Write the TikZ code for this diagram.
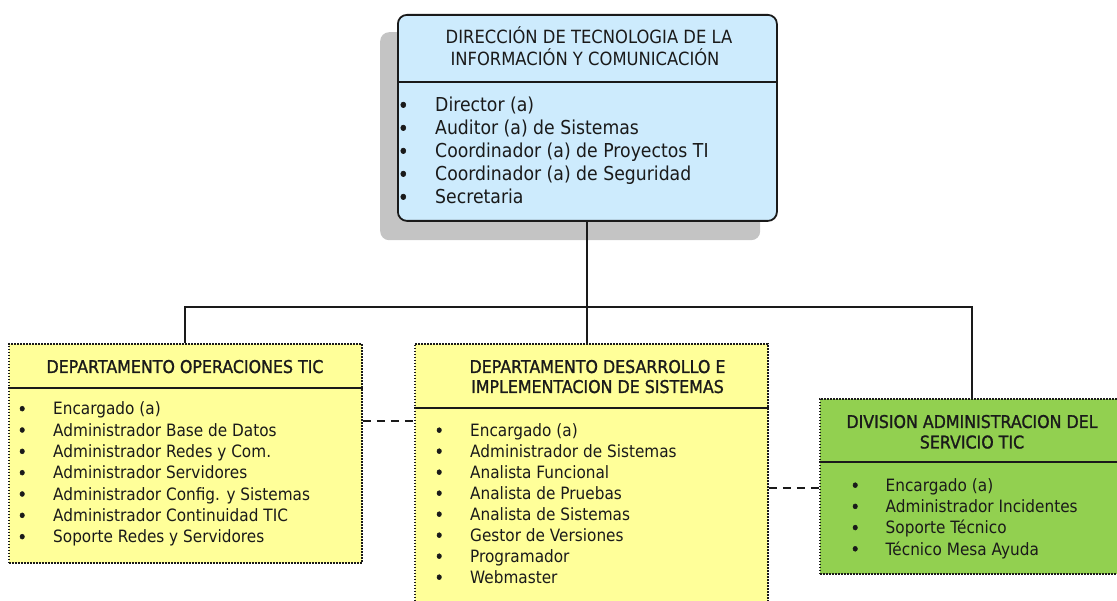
\documentclass[tikz,border=0pt]{standalone}
\usepackage{fontspec}
\setmainfont{DejaVu Sans}[FakeStretch=0.9]
\newfontfamily\titlefont{DejaVu Sans}[FakeStretch=0.9,FakeBold=1.2]
\newfontfamily\bulfont{DejaVu Sans}[FakeStretch=0.9,FakeBold=3]
\newcommand\bigbul{{\bulfont\textbullet}}
\definecolor{topblue}{HTML}{CDEBFD}
\definecolor{paleyel}{HTML}{FFFF99}
\definecolor{leafgrn}{HTML}{92D050}
\definecolor{shadowgray}{HTML}{C4C4C4}
\definecolor{ink}{HTML}{1A1A1A}
\tikzset{
  boxbase/.style={rectangle, inner sep=0pt, anchor=north west, line width=1.8pt, draw=ink},
  dotbox/.style={boxbase, dash pattern=on 1.6pt off 1.4pt},
  conn/.style={draw=ink, line width=2pt},
  dashconn/.style={draw=ink, line width=1.3pt, dash pattern=on 8pt off 6pt},
  divider/.style={draw=ink, line width=1.3pt},
  toptext/.style={anchor=base west, inner sep=0pt, font=\fontsize{19.2}{21}\selectfont, text=ink},
  bodytext/.style={anchor=base west, inner sep=0pt, font=\fontsize{17}{19}\selectfont, text=ink},
  toptitle/.style={anchor=base, inner sep=0pt, font=\fontsize{18.2}{20}\selectfont, text=ink},
  depttitle/.style={anchor=base, inner sep=0pt, font=\fontsize{17.6}{19}\titlefont, text=ink},
}
\begin{document}
\begin{tikzpicture}[x=1pt,y=-1pt]
\useasboundingbox (0,0) rectangle (1117,601);
% top box with shadow
\node[rectangle, inner sep=0pt, anchor=north west, fill=shadowgray, rounded corners=9pt,
      minimum width=380pt, minimum height=208pt] (dirshadow) at (380,32) {};
\node[boxbase, fill=topblue, rounded corners=9pt, line width=1.8pt,
      minimum width=379pt, minimum height=206pt] (dir) at (397,14) {};
\draw[divider] (dir.west |- 0,82) -- (dir.east |- 0,82);
\node[toptitle] (dirt1) at (589,44) {DIRECCIÓN DE TECNOLOGIA DE LA};
\node[toptitle] (dirt2) at (585,65.5) {INFORMACIÓN Y COMUNICACIÓN};
\foreach \t [count=\i from 0] in {Director (a), Auditor (a) de Sistemas, Coordinador (a) de Proyectos TI, Coordinador (a) de Seguridad, Secretaria}
  \node[toptext] (dl\i) at (398, 112+23*\i) {\makebox[37pt][l]{\bigbul}\t};

% departments
\node[dotbox, fill=paleyel, minimum width=353pt, minimum height=219pt] (ops) at (8,343) {};
\node[dotbox, fill=paleyel, minimum width=353pt, minimum height=280pt] (dev) at (414,343) {};
\node[dotbox, fill=leafgrn, minimum width=304pt, minimum height=175pt] (svc) at (819,398) {};

\draw[divider] (ops.west |- 0,388) -- (ops.east |- 0,388);
\draw[divider] (dev.west |- 0,408) -- (dev.east |- 0,408);
\draw[divider] (svc.west |- 0,462) -- (svc.east |- 0,462);

\node[depttitle] (opst) at (185,373) {DEPARTAMENTO OPERACIONES TIC};
\node[depttitle] (devt1) at (597.5,373) {DEPARTAMENTO DESARROLLO E};
\node[depttitle] (devt2) at (597.5,393) {IMPLEMENTACION DE SISTEMAS};
\node[depttitle] (svct1) at (972,428) {DIVISION ADMINISTRACION DEL};
\node[depttitle] (svct2) at (972,448.5) {SERVICIO TIC};

\foreach \t [count=\i from 0] in {Encargado (a), Administrador Base de Datos, Administrador Redes y Com., Administrador Servidores, Administrador Config. y Sistemas, Administrador Continuidad TIC, Soporte Redes y Servidores}
  \node[bodytext] (ol\i) at (17.5, 415+21.33*\i) {\makebox[35.5pt][l]{\bigbul}\t};
\foreach \t [count=\i from 0] in {Encargado (a), Administrador de Sistemas, Analista Funcional, Analista de Pruebas, Analista de Sistemas, Gestor de Versiones, Programador, Webmaster}
  \node[bodytext] (vl\i) at (434.5, 436.5+21*\i) {\makebox[35.5pt][l]{\bigbul}\t};
\foreach \t [count=\i from 0] in {Encargado (a), Administrador Incidentes, Soporte Técnico, Técnico Mesa Ayuda}
  \node[bodytext] (sl\i) at (850.5, 491.5+21.2*\i) {\makebox[35pt][l]{\bigbul}\t};

% connectors
\coordinate (bus) at (0,307);
\draw[conn] (dir.south) -- (dir.south |- dev.north);
\draw[conn] (ops.north) -- (ops.north |- bus) -| (svc.north);
\draw[dashconn] (ops.east |- 0,421) -- (dev.west |- 0,421);
\draw[dashconn] (dev.east |- 0,488) -- (svc.west |- 0,488);
\end{tikzpicture}
\end{document}
